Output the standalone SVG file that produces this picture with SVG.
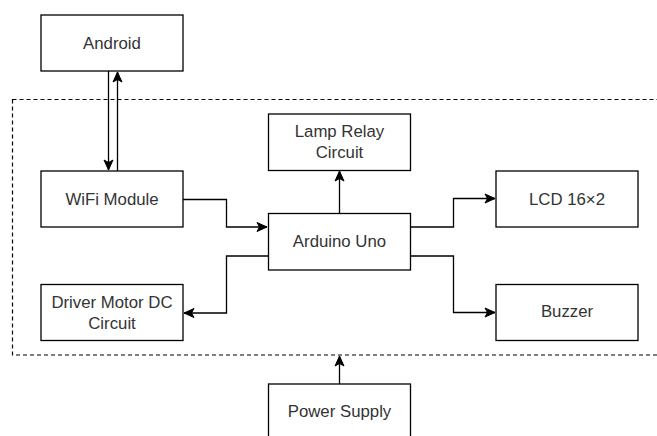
<svg xmlns="http://www.w3.org/2000/svg" width="657" height="436" viewBox="0 0 657 436">
<style>
.box{fill:#fff;stroke:#000;stroke-width:1.3}
.lbl{font-family:"Liberation Sans",Arial,sans-serif;font-size:16.8px;fill:#333;text-anchor:middle}
.edge{fill:none;stroke:#000;stroke-width:1.3}
.bound{fill:none;stroke:#000;stroke-width:1.2;stroke-dasharray:4 3}
</style>
<defs>
<marker id="arr" markerUnits="userSpaceOnUse" markerWidth="12" markerHeight="12" viewBox="0 0 12 12" refX="11" refY="6" orient="auto">
<path d="M1,1.5 L11,6 L1,10.5 L3.5,6 Z" fill="#000" stroke="#000" stroke-width="1"/>
</marker>
</defs>
<rect class="bound" x="12.5" y="99.5" width="660" height="255.5"/>
<g id="connectors">
<path class="edge" d="M108.5,71 V170" marker-end="url(#arr)"/>
<path class="edge" d="M117.5,171 V72" marker-end="url(#arr)"/>
<path class="edge" d="M183,199.5 H226.5 V227 H267" marker-end="url(#arr)"/>
<path class="edge" d="M268,256 H226.5 V313 H184" marker-end="url(#arr)"/>
<path class="edge" d="M339.5,213 V171" marker-end="url(#arr)"/>
<path class="edge" d="M411,227 H453.5 V198.5 H495" marker-end="url(#arr)"/>
<path class="edge" d="M411,256 H453.5 V312.5 H495" marker-end="url(#arr)"/>
<path class="edge" d="M339.5,384 V356" marker-end="url(#arr)"/>
</g>
<g id="android"><rect class="box" x="41" y="15" width="142" height="56"/><text class="lbl" x="112" y="48.5">Android</text></g>
<g id="wifi"><rect class="box" x="41" y="171" width="142" height="56"/><text class="lbl" x="112" y="204.5">WiFi Module</text></g>
<g id="driver"><rect class="box" x="41" y="284.5" width="142" height="56"/><text class="lbl" x="112" y="307.5">Driver Motor DC</text><text class="lbl" x="112" y="328.5">Circuit</text></g>
<g id="lamp"><rect class="box" x="268.5" y="114" width="142" height="56.5"/><text class="lbl" x="339.5" y="137">Lamp Relay</text><text class="lbl" x="339.5" y="158">Circuit</text></g>
<g id="arduino"><rect class="box" x="268.5" y="213.5" width="142" height="56.5"/><text class="lbl" x="339.5" y="247">Arduino Uno</text></g>
<g id="lcd"><rect class="box" x="496" y="171" width="142" height="56"/><text class="lbl" x="567" y="204.5">LCD 16×2</text></g>
<g id="buzzer"><rect class="box" x="496" y="284.5" width="142" height="56"/><text class="lbl" x="567" y="317">Buzzer</text></g>
<g id="power"><rect class="box" x="268.5" y="384" width="142" height="60"/><text class="lbl" x="339.5" y="417">Power Supply</text></g>
</svg>
